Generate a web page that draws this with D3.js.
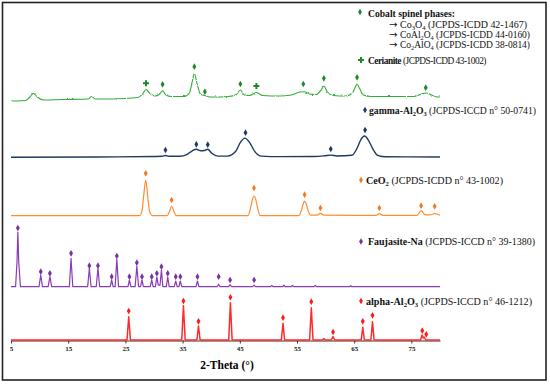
<!DOCTYPE html>
<html>
<head>
<meta charset="utf-8">
<script src="https://cdn.jsdelivr.net/npm/d3@7"></script>
<style>
  body { margin: 0; background: #fff; }
  svg { display: block; font-family: "Liberation Serif", "Times New Roman", serif; }
</style>
</head>
<body>
<script>
// 2-theta tick labels
const angleTicks = [5, 15, 25, 35, 45, 55, 65, 75];

// traces: [2-theta, intensity (a.u.)]
const cobaltTrace = [[5,0],[7.5,0.5],[8.3,4],[8.9,7.5],[9.6,4],[10.6,1],[14,1.5],[18.5,2],[19.1,4.5],[19.7,2],[25,2.5],
  [27.2,3.5],[28.0,7],[28.6,11.5],[29.3,7.5],[30.2,5],[30.9,6.5],[31.5,10.3],[32.1,6],[33,4.5],[35.3,4.5],[36.2,8],
  [36.7,20],[37.05,27.5],[37.5,18],[38.1,7],[38.9,5.5],[39.8,4],[43,4.5],[44.4,6.5],[45.1,11],[45.8,6],[46.7,5.5],
  [47.9,8.5],[49,5.5],[52,5],[54,6],[55.5,9],[56.3,9.3],[57.2,7],[58.3,6.5],[59.2,11],[59.7,15],[60.3,9],[61.3,5.5],
  [63.5,5],[64.7,8],[65.2,14],[65.5,17],[65.9,13],[66.6,6],[68,4.5],[72,4.5],[75.5,4.5],[76.8,7],[77.5,8],[78.4,6.5],
  [79.4,4],[80,4]];
const gammaTrace = [[5,0],[20,0.3],[30,0.8],[31.4,1],[32.0,1.8],[32.6,1],[34.5,1],[35.8,3],[36.7,6.5],[37.4,8],
  [38.2,6.5],[38.8,6.8],[39.4,8],[40.1,4],[41.2,1.2],[42.8,1.2],[44.3,6],[45.0,14],[45.9,19.2],[46.8,14],[47.6,6],
  [48.8,1.2],[52,0.7],[58,0.8],[59.8,1.5],[60.9,2.2],[62,1.3],[64.6,2],[65.5,9],[66.1,17],[66.8,21.3],[67.5,17],
  [68.2,9],[69.1,2],[70.5,0.5],[80,0.3]];
const ceriaTrace = [[5,0],[27.5,0],[27.9,5],[28.2,20],[28.55,35.7],[28.9,20],[29.2,5],[29.7,0],[32.3,0],[32.7,4],
  [33.08,9.7],[33.5,4],[33.9,0],[46.4,0],[46.9,8],[47.2,16],[47.48,19.7],[47.8,16],[48.1,8],[48.6,0],[55.3,0],
  [55.8,6],[56.1,12],[56.33,14.7],[56.6,12],[56.9,6],[57.4,0.5],[58.5,0.5],[59.09,2.4],[59.7,0.5],[68.8,0.3],
  [69.4,2],[70,0.3],[76,0.3],[76.7,5],[77.4,0.8],[78.3,0.8],[79.07,2],[80,0.5]];
const faujasiteTrace = [[5,0],[5.8,0],[6.05,25],[6.2,54.7],[6.35,25],[6.65,0],[9.9,0],[10.2,11.7],[10.5,0],[11.5,0],
  [11.8,10],[12.1,0],[15.2,0],[15.5,28.4],[15.8,0],[18.4,0],[18.7,18.4],[19.0,0],[19.9,0],[20.2,18.4],[20.5,0],
  [22.35,0],[22.6,6.7],[22.85,0],[23.2,0],[23.5,27.4],[23.8,0],[25.45,0],[25.7,6.7],[25.95,0],[26.7,0],[27.0,20.7],
  [27.3,0],[27.65,0],[27.9,6.7],[28.15,0],[29.35,0],[29.6,6.7],[29.85,0],[30.25,0],[30.5,9.7],[30.75,1.5],
  [31.05,1.5],[31.3,16.7],[31.55,0],[32.15,0],[32.4,9.7],[32.65,0],[33.55,0],[33.8,5.7],[34.05,0],[34.35,0],
  [34.6,5.7],[34.85,0],[37.35,0],[37.6,5.7],[37.85,0],[41.05,0],[41.3,2.5],[41.55,0],[43.05,0],[43.3,2],[43.55,0],
  [47.25,0],[47.5,1.5],[47.75,0],[50.4,0],[50.6,1.3],[50.8,0],[52.5,0],[52.7,1.5],[52.9,0],[54.0,0],[54.2,1.2],
  [54.4,0],[58.0,0],[58.2,1.3],[58.4,0],[64.2,0],[64.4,1],[64.6,0],[80,0]];
const alphaTrace = [[5,0],[25.28,0],[25.58,23.3],[25.88,0],[34.85,0],[35.15,34.3],[35.45,0],[37.5,0],[37.78,14],
  [38.06,0],[43.06,0],[43.36,37.3],[43.66,0],[52.27,0],[52.55,16.7],[52.83,0],[57.2,0],[57.5,32.3],[57.8,0],
  [59.4,0],[59.7,1.3],[60,0],[61.0,0],[61.3,3.3],[61.6,0],[66.22,0],[66.5,12.7],[66.78,0],[67.92,0],[68.2,18.3],
  [68.48,0],[76.6,0],[76.87,5],[77.05,2],[77.23,3],[77.5,0],[80,0]];

// phase markers [2-theta, height]
const spinelMarks = [[31.5,16.7],[37.05,34.3],[38.9,9.3],[45.1,17],[56.1,17],[59.7,22.7],[65.5,23.7],[77.5,13.3]];
const cerianiteMarks = [[28.6,17.7],[47.9,15]];
const gammaMarks = [[32.0,7.3],[37.4,13],[39.4,12.6],[46.0,24.6],[60.9,8.3],[66.9,27.3]];
const ceriaMarks = [[28.55,42.4],[33.08,15.7],[47.48,27.7],[56.33,21],[59.09,7.7],[69.4,7.7],[76.7,10],[79.07,9.4]];
const faujasiteMarks = [[6.2,58.7],[10.2,15],[11.8,13.4],[15.5,33.4],[18.7,21],[20.2,21],[22.6,10],[23.5,30.7],
  [25.7,10],[27.0,24],[27.9,10],[29.6,10],[30.5,13.4],[31.3,20],[32.4,13.4],[33.8,10],[34.6,10],[37.6,10],
  [41.3,10],[43.3,6.7],[47.5,6.7]];
const alphaMarks = [[25.58,29],[35.15,39],[37.78,18.7],[43.36,42.7],[52.55,22.3],[57.5,38.3],[61.3,8],[66.5,18.7],
  [68.2,24.7],[76.9,9.3],[77.6,5.7]];

// legend texts: [text, bold, subscript]
const spinelTitle = [["Cobalt spinel phases:", true]];
const spinelLines = [
  [["Co", false], ["3", false, true], ["O", false], ["4", false, true], [" (JCPDS-ICDD 42-1467)", false]],
  [["CoAl", false], ["2", false, true], ["O", false], ["4", false, true], [" (JCPDS-ICDD 44-0160)", false]],
  [["Co", false], ["2", false, true], ["AlO", false], ["4", false, true], [" (JCPDS-ICDD 38-0814)", false]]
];
const arrow = "\u2192";
const cerianiteLabel = [["Cerianite", true], [" (JCPDS-ICDD 43-1002)", false]];
const gammaLabel = [["gamma-Al", true], ["2", true, true], ["O", true], ["3", true, true], [" (JCPDS-ICCD n\u00b0 50-0741)", false]];
const ceriaLabel = [["CeO", true], ["2", true, true], [" (JCPDS-ICDD n\u00b0 43-1002)", false]];
const faujasiteLabel = [["Faujasite-Na", true], [" (JCPDS-ICCD n\u00b0 39-1380)", false]];
const alphaLabel = [["alpha-Al", true], ["2", true, true], ["O", true], ["3", true, true], [" (JCPDS-ICCD n\u00b0 46-1212)", false]];

const xLabel = "2-Theta (\u00b0)";

(function() {
  const width = 550, height = 384;

  const svg = d3.select("body").append("svg")
    .attr("width", width)
    .attr("height", height);

  // jitter for the noisy top pattern
  const filt = svg.append("defs").append("filter")
    .attr("id", "noise")
    .attr("filterUnits", "userSpaceOnUse")
    .attr("x", 0).attr("y", 0).attr("width", width).attr("height", height);
  filt.append("feTurbulence")
    .attr("type", "fractalNoise")
    .attr("baseFrequency", "0.8 0.9")
    .attr("numOctaves", 1)
    .attr("seed", 3)
    .attr("result", "t");
  filt.append("feDisplacementMap")
    .attr("in", "SourceGraphic")
    .attr("in2", "t")
    .attr("scale", 2.4)
    .attr("xChannelSelector", "R")
    .attr("yChannelSelector", "G");

  svg.append("rect")
    .attr("x", 2.5).attr("y", 2.5)
    .attr("width", 543.5).attr("height", 377.5)
    .attr("fill", "#fff")
    .attr("stroke", "#222")
    .attr("stroke-width", 1.6);

  const xScale = d3.scaleLinear().domain([5, 80]).range([11, 440]);
  const yScale = d3.scaleLinear().domain([0, 340]).range([340, 0]);

  // axis
  const axis = svg.append("g")
    .attr("transform", "translate(0, 340.5)")
    .call(d3.axisBottom(xScale).tickValues(angleTicks).tickSize(3).tickSizeOuter(0));
  axis.select(".domain").attr("stroke", "#333");
  axis.selectAll(".tick line").attr("stroke", "#333");
  axis.selectAll(".tick text")
    .attr("y", 6)
    .style("font-family", "Liberation Serif")
    .style("font-size", "7px")
    .style("font-weight", "bold")
    .attr("fill", "#222");

  svg.append("text")
    .attr("x", 227)
    .attr("y", 369)
    .attr("text-anchor", "middle")
    .style("font-size", "11.5px")
    .style("font-weight", "bold")
    .text(xLabel);

  const patterns = [
    { trace: cobaltTrace, offset: 239, color: "#35ab3b", width: 1.1, curve: d3.curveMonotoneX, noisy: true },
    { trace: gammaTrace, offset: 182.7, color: "#1f3a60", width: 1.4, curve: d3.curveMonotoneX },
    { trace: ceriaTrace, offset: 124.3, color: "#ff8c2e", width: 1.2, curve: d3.curveMonotoneX },
    { trace: faujasiteTrace, offset: 53.3, color: "#8a3cb4", width: 1.2, curve: d3.curveLinear },
    { trace: alphaTrace, offset: 0, color: "#ff2a2a", width: 1.5, curve: d3.curveLinear }
  ];

  patterns.forEach(p => {
    const line = d3.line()
      .x(d => xScale(d[0]))
      .y(d => yScale(p.offset + d[1]))
      .curve(p.curve);
    svg.append("path")
      .datum(p.trace)
      .attr("d", line)
      .attr("fill", "none")
      .attr("stroke", p.color)
      .attr("stroke-width", p.width)
      .attr("stroke-linejoin", "round")
      .attr("filter", p.noisy ? "url(#noise)" : null);
  });

  const diamond = d3.symbol().type(d3.symbolDiamond).size(13);
  const cross = d3.symbol().type(d3.symbolCross).size(20);

  function drawMarks(marks, offset, color, sym) {
    svg.append("g").selectAll("path")
      .data(marks)
      .enter()
      .append("path")
      .attr("d", sym)
      .attr("transform", d => "translate(" + xScale(d[0]) + "," + yScale(offset + d[1]) + ")")
      .attr("fill", color);
  }

  drawMarks(spinelMarks, 239, "#1d8a2a", diamond);
  drawMarks(cerianiteMarks, 239, "#1d8a2a", cross);
  drawMarks(gammaMarks, 182.7, "#1f3864", diamond);
  drawMarks(ceriaMarks, 124.3, "#f57a1e", diamond);
  drawMarks(faujasiteMarks, 53.3, "#7a2fa3", diamond);
  drawMarks(alphaMarks, 0, "#ff1a1a", diamond);

  // legend: fit each label to the width it takes in the reference
  function label(parts, x, y, w) {
    const t = svg.append("text")
      .attr("x", x)
      .attr("y", y)
      .attr("fill", "#111");
    function build(fs) {
      t.selectAll("tspan").remove();
      parts.forEach((p, i) => {
        const s = t.append("tspan")
          .style("font-weight", p[1] ? "bold" : "normal")
          .style("font-size", (p[2] ? fs * 0.66 : fs) + "px")
          .text(p[0]);
        if (p[2]) s.attr("dy", 2);
        else if (i > 0 && parts[i - 1][2]) s.attr("dy", -2);
      });
    }
    build(10);
    const fs = Math.max(9.4, Math.min(10.6, 10 * w / t.node().getComputedTextLength()));
    build(fs);
    const len = t.node().getComputedTextLength();
    const n = parts.reduce((a, p) => a + p[0].length, 0);
    t.style("letter-spacing", ((w - len) / n) + "px");
  }

  function legendMark(x, y, color, sym) {
    svg.append("path")
      .attr("d", sym)
      .attr("transform", "translate(" + x + "," + y + ")")
      .attr("fill", color);
  }

  legendMark(360, 12, "#1d8a2a", diamond);
  label(spinelTitle, 368, 17, 87);
  spinelLines.forEach((parts, i) => {
    svg.append("text")
      .attr("x", 389)
      .attr("y", 28 + i * 10)
      .style("font-family", "DejaVu Sans")
      .style("font-size", "10px")
      .attr("fill", "#111")
      .text(arrow);
    label(parts, 400, 28 + i * 10, [127, 130, 130][i]);
  });
  legendMark(361, 60, "#1d8a2a", cross);
  label(cerianiteLabel, 368, 64, 118);
  legendMark(365, 110, "#1f3864", diamond);
  label(gammaLabel, 369, 113.5, 167);
  legendMark(361, 180, "#f57a1e", diamond);
  label(ceriaLabel, 366, 183.5, 137);
  legendMark(361, 241.5, "#7a2fa3", diamond);
  label(faujasiteLabel, 368, 245, 167);
  legendMark(361, 301, "#ff1a1a", diamond);
  label(alphaLabel, 366, 304.7, 166);
})();
</script>
</body>
</html>
